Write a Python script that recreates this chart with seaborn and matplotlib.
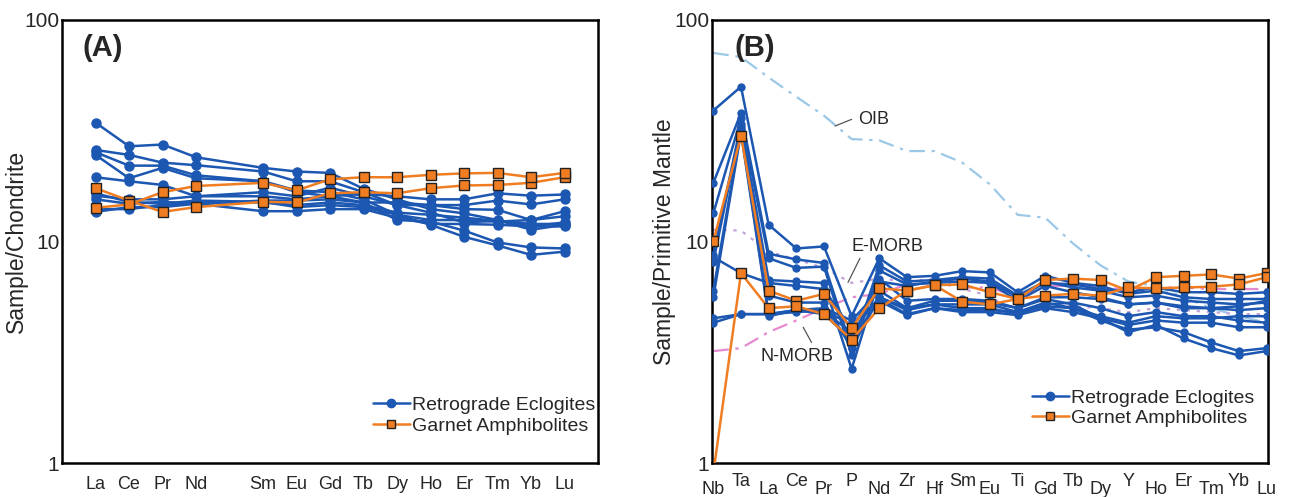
import numpy as np
import pandas as pd
import matplotlib
matplotlib.use("Agg")
import matplotlib.pyplot as plt
import seaborn as sns
from matplotlib.lines import Line2D

sns.set_theme(style="white")
plt.rcParams['font.family'] = ['Liberation Sans', 'DejaVu Sans']

# ---------------- data: panel A (chondrite normalised REE) ----------------
ree = ["La", "Ce", "Pr", "Nd", "Sm", "Eu", "Gd", "Tb", "Dy", "Ho", "Er", "Tm", "Yb", "Lu"]
ree_ticks = ["La", "Ce", "Pr", "Nd", "", "Sm", "Eu", "Gd", "Tb", "Dy", "Ho", "Er", "Tm", "Yb", "Lu"]
ree_pos = [0, 1, 2, 3, 5, 6, 7, 8, 9, 10, 11, 12, 13, 14]

eclogite_ree = [
    [34.4, 26.9, 27.4, 24.0, 21.5, 20.7, 20.4, 17.3, 15.5, 14.0, 13.4, 12.5, 11.3, 11.9],
    [25.9, 24.6, 22.7, 22.1, 20.7, 18.7, 18.7, 16.7, 14.6, 13.5, 12.2, 12.4, 11.7, 12.2],
    [25.3, 22.0, 22.0, 19.9, 18.7, 17.0, 16.7, 15.5, 13.2, 11.9, 10.5, 9.6, 8.7, 9.0],
    [24.6, 19.3, 21.5, 19.3, 18.7, 16.7, 16.0, 15.0, 12.5, 12.3, 11.2, 9.9, 9.4, 9.3],
    [19.5, 18.7, 18.0, 16.0, 16.7, 16.0, 17.5, 16.0, 14.6, 14.6, 14.0, 13.9, 12.5, 13.7],
    [16.1, 15.5, 15.5, 16.0, 16.0, 15.5, 16.0, 16.4, 16.0, 15.5, 15.5, 16.5, 16.1, 16.3],
    [15.5, 14.8, 15.1, 14.8, 15.3, 15.3, 15.5, 15.0, 15.0, 14.6, 14.6, 15.3, 14.7, 15.5],
    [14.0, 14.0, 14.6, 15.0, 15.0, 14.6, 15.0, 14.6, 13.5, 13.2, 12.8, 12.4, 12.0, 12.0],
    [13.6, 14.3, 14.3, 14.8, 13.7, 13.7, 14.0, 14.0, 12.8, 12.0, 12.0, 11.9, 11.7, 11.7],
    [16.5, 15.1, 14.8, 15.3, 15.1, 14.3, 14.6, 14.3, 13.2, 12.5, 12.5, 12.3, 12.5, 13.0],
]
amphibolite_ree = [
    [17.4, 15.3, 13.6, 14.3, 15.1, 15.0, 16.5, 16.7, 16.5, 17.4, 17.9, 18.0, 18.4, 19.5],
    [14.2, 14.7, 16.7, 17.8, 18.4, 17.0, 19.1, 19.5, 19.5, 20.0, 20.3, 20.4, 19.5, 20.4],
]

# ---------------- data: panel B (primitive mantle normalised) ----------------
spider = ["Nb", "Ta", "La", "Ce", "Pr", "P", "Nd", "Zr", "Hf", "Sm", "Eu",
          "Ti", "Gd", "Tb", "Dy", "Y", "Ho", "Er", "Tm", "Yb", "Lu"]

eclogite_pm = [
    [39.0, 50.0, 11.9, 9.3, 9.5, 4.6, 8.4, 6.9, 7.0, 7.35, 7.25, 5.9, 7.0, 6.5, 6.3, 5.8, 6.0, 5.6, 5.5, 5.5, 5.5],
    [18.4, 38.0, 8.8, 8.3, 8.0, 3.3, 7.8, 6.6, 6.7, 6.9, 6.8, 5.7, 6.6, 6.2, 6.0, 5.6, 5.7, 5.4, 5.3, 5.2, 5.3],
    [13.4, 36.0, 8.4, 7.6, 7.7, 3.06, 7.4, 6.4, 6.5, 6.6, 6.5, 5.4, 6.3, 5.9, 5.6, 5.2, 5.3, 5.0, 5.0, 4.9, 5.0],
    [8.7, 34.0, 6.7, 6.6, 6.5, 2.66, 6.8, 5.4, 5.5, 5.5, 5.4, 5.0, 5.5, 5.2, 4.5, 3.9, 4.2, 3.65, 3.3, 3.06, 3.2],
    [8.1, 33.0, 5.7, 5.3, 5.3, 3.3, 5.6, 5.0, 5.2, 5.2, 5.2, 4.8, 5.3, 5.0, 4.4, 4.0, 4.1, 3.9, 3.5, 3.2, 3.3],
    [6.0, 32.0, 4.7, 4.9, 4.7, 3.6, 5.4, 4.65, 5.0, 4.8, 4.8, 4.65, 5.0, 4.8, 4.5, 4.2, 4.4, 4.3, 4.3, 4.1, 4.1],
    [5.6, 31.0, 4.6, 4.9, 4.8, 3.9, 5.6, 4.9, 5.2, 5.0, 5.0, 4.7, 5.2, 5.3, 5.0, 4.6, 4.8, 4.6, 4.6, 4.4, 4.3],
    [4.5, 4.7, 4.7, 4.8, 4.9, 4.2, 5.5, 4.7, 5.0, 4.9, 4.9, 4.8, 5.1, 5.0, 4.6, 4.3, 4.6, 4.5, 4.5, 4.6, 4.6],
    [4.3, 4.7, 4.7, 4.9, 5.0, 4.4, 6.0, 5.0, 5.4, 5.4, 5.3, 5.0, 5.6, 5.6, 5.5, 5.2, 5.3, 5.1, 5.0, 5.1, 5.4],
    [8.5, 7.2, 6.5, 6.3, 6.1, 4.0, 6.6, 6.3, 6.6, 6.8, 6.6, 5.6, 6.5, 6.4, 6.1, 5.9, 6.2, 5.9, 5.9, 5.8, 5.9],
]
amphibolite_pm = [
    [10.0, 30.0, 6.0, 5.4, 5.8, 4.05, 6.15, 6.0, 6.35, 6.4, 5.9, 5.5, 6.7, 6.8, 6.7, 6.0, 6.9, 7.0, 7.1, 6.8, 7.2],
    [0.9, 7.2, 5.0, 5.1, 4.7, 3.6, 5.0, 6.0, 6.35, 5.35, 5.2, 5.5, 5.7, 5.8, 5.7, 6.2, 6.15, 6.2, 6.25, 6.4, 6.9],
]

oib = [71, 68, 55, 45, 37, 29, 28.6, 25.6, 25.6, 22.7, 18.1, 13.2, 12.8, 9.8, 7.8, 6.6, 6.3, 5.6, 5.0, 4.6, 4.3]
e_morb = [11.3, 11.2, 9.0, 8.3, 7.6, 6.5, 6.8, 6.6, 6.8, 6.1, 5.7, 4.6, 5.2, 5.1, 5.0, 4.8, 5.0, 4.9, 4.8, 4.7, 4.7]
n_morb = [3.2, 3.3, 3.9, 4.4, 5.0, 5.6, 5.8, 6.4, 6.5, 6.2, 6.2, 5.6, 6.3, 6.3, 6.3, 6.0, 6.2, 6.2, 6.1, 6.1, 6.1]

BLUE = "#1c57b2"
ORANGE = "#f07d22"
OIB_C = "#9cc8e8"
EMORB_C = "#c3a3d6"
NMORB_C = "#e48ad0"

fig = plt.figure(figsize=(12.9, 4.97), dpi=100)
axA = fig.add_axes([0.0481, 0.0684, 0.4155, 0.8914])
axB = fig.add_axes([0.5519, 0.0684, 0.4310, 0.8914])


def draw_samples(ax, xs, rows, color, marker, ms, mec, zorder):
    for row in rows:
        sns.lineplot(x=xs, y=row, ax=ax, color=color, lw=1.8, marker=marker,
                     markersize=ms, markerfacecolor=color, markeredgecolor=mec,
                     markeredgewidth=1.0, sort=False, estimator=None, zorder=zorder)


def style_axis(ax):
    ax.set_yscale("log")
    ax.set_ylim(1, 100)
    for s in ax.spines.values():
        s.set_color("black")
        s.set_linewidth(1.8)
    ax.tick_params(axis="both", which="both", direction="in", color="black",
                   top=False, right=False)
    ax.tick_params(axis="y", which="major", length=6, width=1.4, labelsize=15, pad=2)
    ax.tick_params(axis="y", which="minor", length=4, width=1.2)
    ax.tick_params(axis="x", which="major", length=5, width=1.2)
    ax.set_yticks([1, 10, 100])
    ax.set_yticklabels(["1", "10", "100"])
    ax.grid(False)


# ---- panel A ----
draw_samples(axA, ree_pos, eclogite_ree, BLUE, "o", 6.5, BLUE, 3)
draw_samples(axA, ree_pos, amphibolite_ree, ORANGE, "s", 6.5, "#222222", 4)
style_axis(axA)
axA.set_xlim(-1, 15)
axA.set_xticks(range(len(ree_ticks)))
axA.set_xticklabels(ree_ticks, fontsize=13)
axA.tick_params(axis="x", pad=9)
axA.set_ylabel("Sample/Chondrite", fontsize=16.5)
axA.yaxis.set_label_coords(-0.063, 0.5)
axA.set_xlabel("")
axA.text(0.039, 0.937, "(A)", transform=axA.transAxes, fontsize=21,
         fontweight="bold", va="center", ha="left")

# ---- panel B ----
xb = list(range(len(spider)))
sns.lineplot(x=xb, y=oib, ax=axB, color=OIB_C, lw=1.6, ls=(0, (7, 3, 1.5, 3)), zorder=1)
sns.lineplot(x=xb, y=e_morb, ax=axB, color=EMORB_C, lw=1.6, ls=(0, (1.5, 3)), zorder=1)
sns.lineplot(x=xb, y=n_morb, ax=axB, color=NMORB_C, lw=1.6, ls=(0, (7, 3, 1.5, 3)), zorder=1)
draw_samples(axB, xb, eclogite_pm, BLUE, "o", 5, BLUE, 3)
draw_samples(axB, xb, amphibolite_pm, ORANGE, "s", 6.5, "#222222", 4)
style_axis(axB)
axB.set_xlim(-0.05, 20.05)
axB.set_xticks(xb)
axB.set_xticklabels(spider, fontsize=13)
for i, t in enumerate(axB.xaxis.get_major_ticks()):
    t.set_pad(7 if i % 2 else 13)
axB.set_ylabel("Sample/Primitive Mantle", fontsize=16.5)
axB.yaxis.set_label_coords(-0.065, 0.5)
axB.set_xlabel("")
axB.text(0.041, 0.937, "(B)", transform=axB.transAxes, fontsize=21,
         fontweight="bold", va="center", ha="left")

# reference curve labels
axB.text(5.25, 35.4, "OIB", fontsize=13, va="center", ha="left")
axB.plot([4.4, 5.0], [33.2, 35.6], color="#555555", lw=0.9)
axB.text(5.0, 9.5, "E-MORB", fontsize=13, va="center", ha="left")
axB.plot([4.87, 5.3], [6.54, 8.4], color="#555555", lw=0.9)
axB.text(1.7, 3.04, "N-MORB", fontsize=13, va="center", ha="left")
axB.plot([3.25, 3.55], [4.1, 3.5], color="#555555", lw=0.9)

# legends
handles = [
    Line2D([], [], color=BLUE, lw=1.8, marker="o", markersize=6, markerfacecolor=BLUE),
    Line2D([], [], color=ORANGE, lw=1.8, marker="s", markersize=6,
           markerfacecolor=ORANGE, markeredgecolor="#222222"),
]
labels = ["Retrograde Eclogites", "Garnet Amphibolites"]
for ax, anchor in ((axA, (0.58, 0.15)), (axB, (0.575, 0.167))):
    ax.legend(handles, labels, loc="upper left", bbox_to_anchor=anchor,
              frameon=False, fontsize=14, handlelength=1.9, handletextpad=0.1,
              labelspacing=0.15, borderaxespad=0, borderpad=0)

fig.savefig("out.png", dpi=100)
